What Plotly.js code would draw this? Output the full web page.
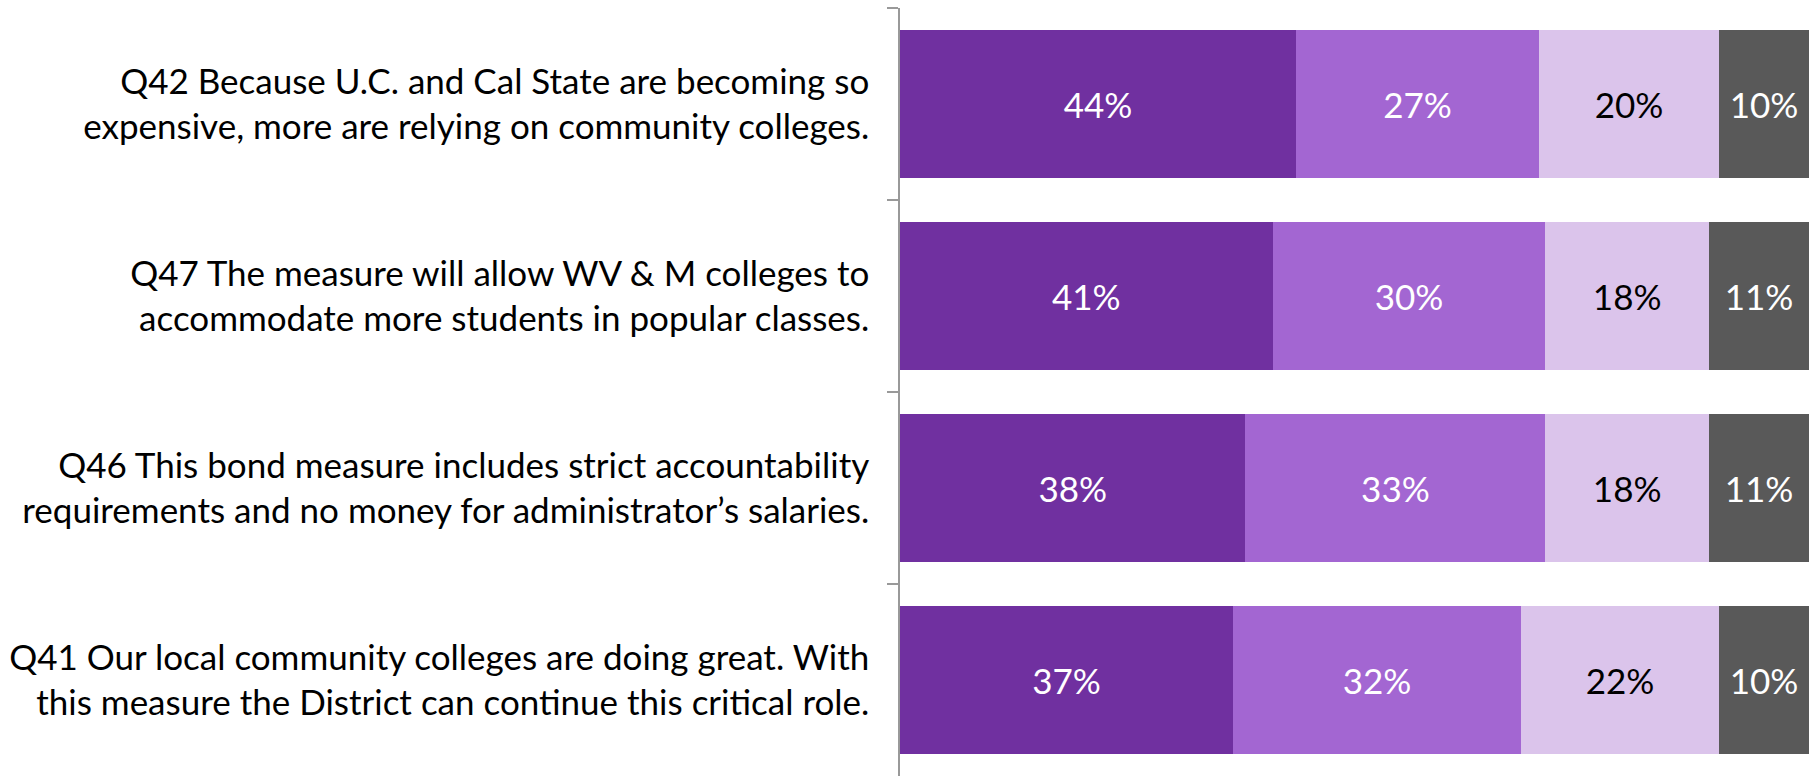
<!DOCTYPE html>
<html>
<head>
<meta charset="utf-8">
<script src="https://cdn.plot.ly/plotly-3.0.1.min.js"></script>
<style>
  html, body { margin: 0; padding: 0; background: #ffffff; }
  #chart { width: 1814px; height: 776px; }
</style>
</head>
<body>
<div id="chart"></div>
<script>
// Data
var categories = [
  "Q42 Because U.C. and Cal State are becoming so<br>expensive, more are relying on community colleges.",
  "Q47 The measure will allow WV & M colleges to<br>accommodate more students in popular classes.",
  "Q46 This bond measure includes strict accountability<br>requirements and no money for administrator’s salaries.",
  "Q41 Our local community colleges are doing great. With<br>this measure the District can continue this critical role."
];
var seriesNames = ["Very convincing", "Somewhat convincing", "Not too convincing", "Don't know"];
var veryValues = [44, 41, 38, 37];
var somewhatValues = [27, 30, 33, 32];
var notValues = [20, 18, 18, 22];
var dkValues = [10, 11, 11, 10];

var colors = ["#7030A0", "#A366D2", "#DBC4EB", "#595959"];
var textColors = ["#ffffff", "#ffffff", "#000000", "#ffffff"];
var allValues = [veryValues, somewhatValues, notValues, dkValues];

var FONT = "Lato, 'Gill Sans', 'Noto Sans', sans-serif";

var traces = allValues.map(function (vals, i) {
  return {
    type: "bar",
    orientation: "h",
    name: seriesNames[i],
    y: categories,
    x: vals,
    text: vals.map(function (v) { return v + "%"; }),
    textposition: "inside",
    insidetextanchor: "middle",
    textangle: 0,
    constraintext: "none",
    textfont: { family: FONT, size: 35, color: textColors[i] },
    marker: { color: colors[i], line: { width: 0 } },
    hoverinfo: "name+text",
    showlegend: false
  };
});

var layout = {
  width: 1814,
  height: 776,
  margin: { l: 900, r: 5, t: 8, b: 0, pad: 0 },
  paper_bgcolor: "#ffffff",
  plot_bgcolor: "#ffffff",
  barmode: "stack",
  barnorm: "percent",
  bargap: 0.23,
  font: { family: FONT, size: 35, color: "#000000" },
  xaxis: {
    range: [0, 100],
    showgrid: false,
    zeroline: false,
    showticklabels: false,
    ticks: "",
    showline: false,
    fixedrange: true
  },
  yaxis: {
    type: "category",
    autorange: "reversed",
    showgrid: false,
    zeroline: false,
    showline: true,
    linecolor: "#999999",
    linewidth: 1.5,
    ticks: "outside",
    tickson: "boundaries",
    ticklen: 11,
    tickwidth: 1.5,
    tickcolor: "#999999",
    ticklabelstandoff: 22,
    tickfont: { family: FONT, size: 35, color: "#000000" },
    fixedrange: true
  }
};

Plotly.newPlot("chart", traces, layout, { displayModeBar: false, responsive: false });
</script>
</body>
</html>
